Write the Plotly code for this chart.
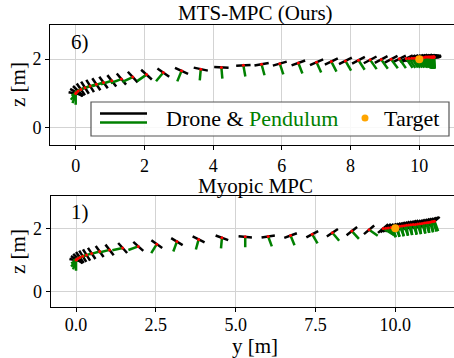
import math
import plotly.graph_objects as go

# ---------------- data ----------------
# MTS-MPC (Ours): drone centre (y, z), drone pitch [deg], pendulum angle [deg]
top_y = [0.00, 0.02, 0.07, 0.15, 0.27, 0.42, 0.60, 0.81, 1.05, 1.33, 1.66, 2.06, 2.55, 3.08,
         3.64, 4.24, 4.88, 5.41, 5.94, 6.48, 7.01, 7.44, 7.85, 8.23, 8.57, 8.89, 9.18, 9.42,
         9.62, 9.70, 9.78, 9.85, 9.92, 9.98, 10.04, 10.09, 10.14, 10.18, 10.22, 10.26, 10.29,
         10.32, 10.35, 10.37, 10.39, 10.41, 10.42, 10.43, 10.43, 10.42, 10.41, 10.40, 10.38,
         10.36]
top_z = [1.00, 1.03, 1.07, 1.12, 1.17, 1.22, 1.27, 1.32, 1.37, 1.42, 1.48, 1.55, 1.61, 1.66,
         1.71, 1.76, 1.82, 1.85, 1.87, 1.89, 1.91, 1.93, 1.95, 1.97, 1.98, 1.99, 2.00, 2.01,
         2.02, 2.02, 2.03, 2.03, 2.04, 2.04, 2.05, 2.05, 2.05, 2.06, 2.06, 2.06, 2.06, 2.06,
         2.06, 2.06, 2.06, 2.06, 2.06, 2.06, 2.06, 2.06, 2.05, 2.05, 2.05, 2.05]
top_pitch = [-10, -30, -45, -55, -58, -58, -56, -54, -52, -50, -47, -42, -35, -25, -12, -3, 3,
             10, 16, 20, 24, 26, 27, 28, 28, 28, 28, 27, 26, 26, 25, 25, 24, 23, 22, 21, 20,
             19, 18, 17, 16, 15, 14, 13, 12, 11, 10, 9, 8, 7, 6, 5, 4, 3]
top_phi = [0, -20, -40, -55, -65, -70, -72, -72, -72, -70, -65, -55, -40, -22, -5, 5, 10, 15,
           18, 21, 24, 27, 30, 33, 35, 36, 36, 35, 34, 34, 33, 32, 31, 30, 28, 26, 24, 22, 20,
           18, 16, 14, 12, 10, 8, 6, 4, 2, 0, -2, -4, -5, -6, -6]

# Myopic MPC
bot_y = [0.00, 0.02, 0.06, 0.12, 0.21, 0.33, 0.49, 0.74, 1.05, 1.46, 1.95, 2.53, 3.16, 3.84,
         4.57, 5.30, 6.02, 6.72, 7.40, 8.03, 8.64, 9.18, 9.62, 9.70, 9.78, 9.86, 9.93, 10.00,
         10.07, 10.14, 10.21, 10.28, 10.35, 10.42, 10.49, 10.56, 10.63, 10.70, 10.77, 10.84,
         10.91, 10.97, 11.03, 11.09, 11.14, 11.19, 11.23]
bot_z = [1.00, 1.02, 1.05, 1.08, 1.12, 1.16, 1.21, 1.27, 1.32, 1.38, 1.43, 1.50, 1.58, 1.65,
         1.70, 1.73, 1.74, 1.77, 1.81, 1.86, 1.91, 1.95, 1.99, 2.00, 2.01, 2.02, 2.03, 2.04,
         2.05, 2.06, 2.07, 2.08, 2.09, 2.10, 2.11, 2.12, 2.12, 2.13, 2.14, 2.15, 2.16, 2.17,
         2.18, 2.19, 2.20, 2.21, 2.22]
bot_pitch = [-10, -30, -45, -55, -58, -58, -56, -54, -52, -48, -42, -36, -31, -27, -20, -5, 8,
             20, 28, 34, 38, 40, 40, 38, 36, 35, 35, 36, 36, 37, 37, 38, 38, 38, 38, 39, 39,
             39, 40, 40, 40, 40, 40, 40, 40, 40, 40]
bot_phi = [0, -20, -40, -55, -65, -70, -72, -74, -76, -78, -70, -32, -20, -15, -5, 0, 20, 22,
           30, 40, 42, 55, 60, 50, 40, 28, 15, 25, 10, 24, 8, 22, 8, 20, 6, 20, 6, 18, 6, 18,
           5, 16, 6, 16, 8, 18, 20]

target = (10.0, 2.0)
titles = ["MTS-MPC (Ours)", "Myopic MPC"]
panel_tags = ["6)", "1)"]
top_xticks = [0, 2, 4, 6, 8, 10]
bot_xticks = [0.0, 2.5, 5.0, 7.5, 10.0]
yticks = [0, 2]

HALF = 0.21    # half-length of drone body [m]
LPEND = 0.33   # pendulum length [m]

W, H = 454, 358
FONT = "Liberation Serif"


def px(x):
    return x / W


def py(y):
    return 1 - y / H


fig = go.Figure()


def add_panel(ys, zs, pitch, phi, xa, ya):
    bx, bz, gx, gz = [], [], [], []
    for y, z, th, ph in zip(ys, zs, pitch, phi):
        t = math.radians(th)
        p = math.radians(ph)
        bx += [y - HALF * math.cos(t), y + HALF * math.cos(t), None]
        bz += [z - HALF * math.sin(t), z + HALF * math.sin(t), None]
        gx += [y, y + LPEND * math.sin(p), None]
        gz += [z, z - LPEND * math.cos(p), None]
    fig.add_trace(go.Scatter(x=bx, y=bz, mode="lines", line=dict(color="black", width=2.5),
                             xaxis=xa, yaxis=ya, showlegend=False, hoverinfo="skip"))
    fig.add_trace(go.Scatter(x=gx, y=gz, mode="lines", line=dict(color="green", width=2.5),
                             xaxis=xa, yaxis=ya, showlegend=False, hoverinfo="skip"))
    fig.add_trace(go.Scatter(x=ys, y=zs, mode="markers", marker=dict(color="red", size=3),
                             xaxis=xa, yaxis=ya, showlegend=False, hoverinfo="skip"))
    fig.add_trace(go.Scatter(x=[target[0]], y=[target[1]], mode="markers",
                             marker=dict(color="orange", size=8),
                             xaxis=xa, yaxis=ya, showlegend=False, hoverinfo="skip"))


add_panel(top_y, top_z, top_pitch, top_phi, "x", "y")
add_panel(bot_y, bot_z, bot_pitch, bot_phi, "x2", "y2")

axis_common = dict(showline=True, linecolor="black", linewidth=1, ticks="outside", ticklen=4,
                   tickcolor="black", showgrid=True, gridcolor="#d3d3d3", gridwidth=1,
                   zeroline=False, tickfont=dict(family=FONT, size=18, color="black"),
                   automargin=False)

fig.update_layout(
    width=W, height=H, margin=dict(l=0, r=0, t=0, b=0),
    paper_bgcolor="white", plot_bgcolor="white", showlegend=False,
    xaxis=dict(domain=[50 / W, 1.0], range=[-0.748, 11.01], tickvals=top_xticks,
               mirror=True, anchor="y", **axis_common),
    yaxis=dict(domain=[py(145), py(24.5)], range=[-0.5, 3.01], tickvals=yticks,
               anchor="x", **axis_common),
    xaxis2=dict(domain=[50.5 / W, 1.0], range=[-0.8, 11.84], tickvals=bot_xticks,
                ticktext=[f"{v:.1f}" for v in bot_xticks], mirror=True, anchor="y2",
                ticklabelstandoff=-3, **axis_common),
    yaxis2=dict(domain=[py(307.3), py(195.7)], range=[-0.48, 3.02], tickvals=yticks,
                anchor="x2", **axis_common),
)

ann = []
tf = dict(family=FONT, size=21, color="black")
ann.append(dict(x=px(255), y=py(13), text=titles[0], showarrow=False, xref="paper",
                yref="paper", xanchor="center", yanchor="middle", font=tf))
ann.append(dict(x=px(255), y=py(186), text=titles[1], showarrow=False, xref="paper",
                yref="paper", xanchor="center", yanchor="middle", font=tf))
ann.append(dict(x=px(80), y=py(42), text=panel_tags[0], showarrow=False, xref="paper",
                yref="paper", xanchor="center", yanchor="middle", font=tf))
ann.append(dict(x=px(80), y=py(212), text=panel_tags[1], showarrow=False, xref="paper",
                yref="paper", xanchor="center", yanchor="middle", font=tf))
ann.append(dict(x=px(18), y=py(85), text="z [m]", textangle=-90, showarrow=False,
                xref="paper", yref="paper", xanchor="center", yanchor="middle", font=tf))
ann.append(dict(x=px(18), y=py(252), text="z [m]", textangle=-90, showarrow=False,
                xref="paper", yref="paper", xanchor="center", yanchor="middle", font=tf))
ann.append(dict(x=px(255), y=py(345.5), text="y [m]", showarrow=False, xref="paper",
                yref="paper", xanchor="center", yanchor="middle", font=tf))
# legend
ann.append(dict(x=px(164), y=py(118), text="Drone &amp; <span style='color:green'>Pendulum</span>",
                showarrow=False, xref="paper", yref="paper", xanchor="left",
                yanchor="middle", font=dict(family=FONT, size=22, color="black")))
ann.append(dict(x=px(382), y=py(118), text="Target", showarrow=False, xref="paper",
                yref="paper", xanchor="left", yanchor="middle",
                font=dict(family=FONT, size=22, color="black")))
fig.update_layout(annotations=ann)

shapes = [
    dict(type="rect", xref="paper", yref="paper", x0=px(91), x1=px(449), y0=py(136),
         y1=py(102), line=dict(color="#555555", width=1.2), fillcolor="rgba(255,255,255,0.85)",
         layer="above"),
    dict(type="line", xref="paper", yref="paper", x0=px(100), x1=px(147), y0=py(113.5),
         y1=py(113.5), line=dict(color="black", width=2.5), layer="above"),
    dict(type="line", xref="paper", yref="paper", x0=px(100), x1=px(147), y0=py(122.5),
         y1=py(122.5), line=dict(color="green", width=2.5), layer="above"),
    dict(type="circle", xref="paper", yref="paper", x0=px(361.5), x1=px(368.5),
         y0=py(121.5), y1=py(114.5), line=dict(color="orange", width=0),
         fillcolor="orange", layer="above"),
]
fig.update_layout(shapes=shapes)

fig.write_html("out.html", config={"displayModeBar": False},
               post_script="document.body.style.margin='0';document.body.style.overflow='hidden';")
